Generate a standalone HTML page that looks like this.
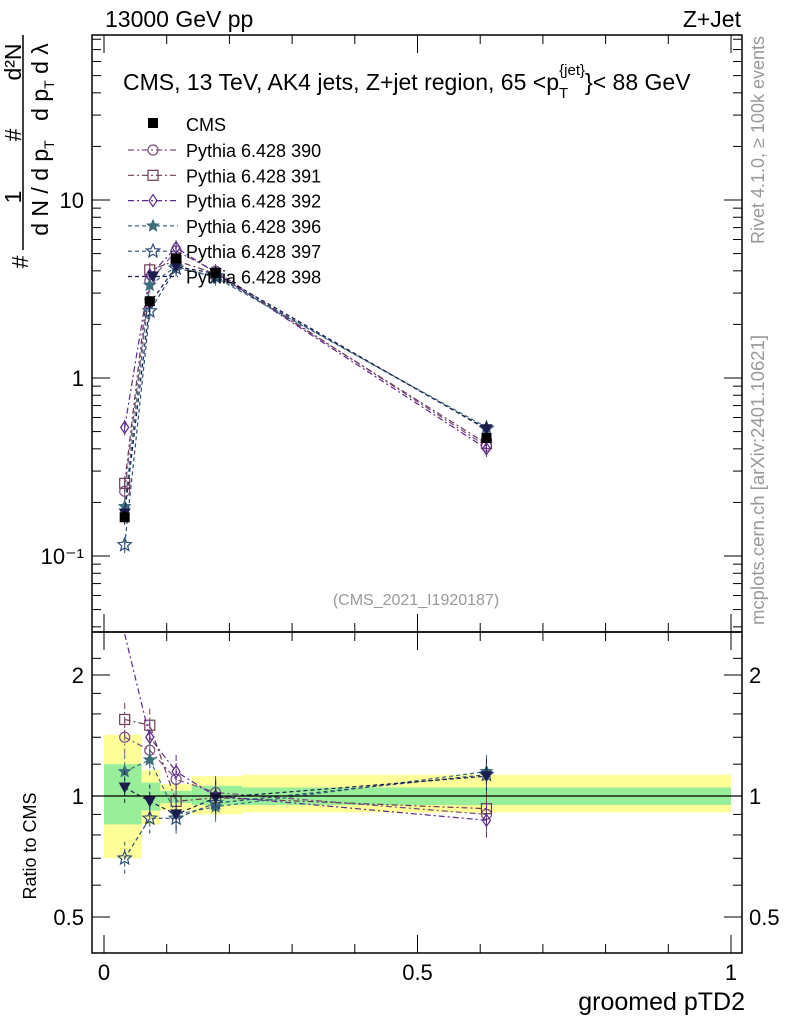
<!DOCTYPE html>
<html><head><meta charset="utf-8"><style>
body{margin:0;background:#fff}
svg text{font-family:"Liberation Sans",sans-serif}
</style></head><body>
<svg id="c" width="786" height="1024" xmlns="http://www.w3.org/2000/svg">
<g id="bands"></g>
<g id="marks"></g>
<rect x="92" y="35" width="650" height="597" fill="none" stroke="#000" stroke-width="1.5"/>
<rect x="92" y="632" width="650" height="321" fill="none" stroke="#000" stroke-width="1.5"/>
<line x1="92" x2="742" y1="796" y2="796" stroke="#000" stroke-width="1.2"/>
<g id="axes"></g>
<text x="105" y="27" font-size="23">13000 GeV pp</text>
<text x="741" y="27" font-size="23" text-anchor="end">Z+Jet</text>
<text x="123" y="90" font-size="23">CMS, 13 TeV, AK4 jets, Z+jet region, 65 &lt;p<tspan font-size="15" dy="8">T</tspan><tspan font-size="15" dx="-9" dy="-23">{jet}</tspan><tspan dy="15">}&lt; 88 GeV</tspan></text>
<text x="416" y="605" font-size="16" fill="#999" text-anchor="middle">(CMS_2021_I1920187)</text>
<text x="745" y="1010" font-size="25" text-anchor="end">groomed pTD2</text>
<text transform="translate(36,846) rotate(-90)" font-size="18" text-anchor="middle">Ratio to CMS</text>
<text transform="translate(764,140) rotate(-90)" font-size="18" fill="#999" text-anchor="middle">Rivet 4.1.0, ≥ 100k events</text>
<text transform="translate(764,480) rotate(-90)" font-size="18.5" fill="#999" text-anchor="middle">mcplots.cern.ch [arXiv:2401.10621]</text>
<g font-size="23">
<line x1="23" x2="23" y1="35" y2="250" stroke="#000" stroke-width="1.5"/>
<text transform="translate(28,262) rotate(-90)" text-anchor="middle">#</text>
<text transform="translate(21,197) rotate(-90)" text-anchor="middle">1</text>
<text transform="translate(21,135) rotate(-90)" text-anchor="middle">#</text>
<text transform="translate(21,62) rotate(-90)" text-anchor="middle">d²N</text>
<text transform="translate(48,188) rotate(-90)" text-anchor="middle">d N / d p<tspan font-size="14" dy="6">T</tspan></text>
<text transform="translate(48,82) rotate(-90)" text-anchor="middle">d p<tspan font-size="14" dy="6">T</tspan><tspan dy="-6"> d λ</tspan></text>
</g>
<g id="legend"></g>
</svg>
<script>
const categories=[0.033,0.073,0.115,0.178,0.61];
const binEdges=[0,0.06,0.09,0.14,0.22,1.0];
const cmsValues=[0.165,2.7,4.7,3.9,0.46];
const cmsErrors=[0.015,0.15,0.2,0.15,0.03];
const yellowLow=[0.70,0.85,0.92,0.90,0.91];
const yellowHigh=[1.42,1.16,1.07,1.12,1.13];
const greenLow=[0.85,0.92,0.96,0.95,0.95];
const greenHigh=[1.20,1.08,1.03,1.06,1.05];
const r390=[1.40,1.30,1.10,1.02,0.90];
const r391=[1.55,1.50,0.97,0.99,0.93];
const r392=[3.2,1.40,1.15,1.00,0.87];
const r396=[1.15,1.23,0.90,0.94,1.15];
const r397=[0.70,0.88,0.88,0.96,1.13];
const r398=[1.05,0.97,0.90,0.99,1.12];
const seriesNames=["Pythia 6.428 390","Pythia 6.428 391","Pythia 6.428 392","Pythia 6.428 396","Pythia 6.428 397","Pythia 6.428 398"];
const yTicksMain=[0.1,1,10];
const yTickLabelsMain=["10\u207B\u00B9","1","10"];
const ratioTicks=[0.5,1,2];
const xTicks=[0,0.5,1];

const NS="http://www.w3.org/2000/svg";
const XR=742;
const X=v=>104+627*v;
const Y=v=>378-178*Math.log10(v);
const R=v=>796-402*Math.log10(v);
function mk(t,a,p){const e=document.createElementNS(NS,t);for(const k in a)e.setAttribute(k,a[k]);(p||document.getElementById('c')).appendChild(e);return e;}
const series=[
 {r:r390,c:"#7b4f7f",m:"circle",d:"6,3,2,3"},
 {r:r391,c:"#6e3b57",m:"square",d:"6,3,2,3"},
 {r:r392,c:"#5b2a8f",m:"diamond",d:"6,3,2,3"},
 {r:r396,c:"#3d6e7d",m:"starf",d:"4,3"},
 {r:r397,c:"#2c4c72",m:"star",d:"4,3"},
 {r:r398,c:"#1b1b4d",m:"tri",d:"4,3"}];
function starPts(cx,cy,R1){let p=[];for(let i=0;i<10;i++){const a=-Math.PI/2+i*Math.PI/5,rr=i%2?R1*0.45:R1;p.push((cx+rr*Math.cos(a)).toFixed(1)+","+(cy+rr*Math.sin(a)).toFixed(1));}return p.join(" ");}
function marker(g,m,x,y,c){
 if(m==="circle")return mk('circle',{cx:x,cy:y,r:5,fill:'none',stroke:c,'stroke-width':1.2},g);
 if(m==="square")return mk('rect',{x:x-5,y:y-5,width:10,height:10,fill:'none',stroke:c,'stroke-width':1.2},g);
 if(m==="diamond")return mk('polygon',{points:`${x},${y-6} ${x+4},${y} ${x},${y+6} ${x-4},${y}`,fill:'none',stroke:c,'stroke-width':1.2},g);
 if(m==="starf")return mk('polygon',{points:starPts(x,y,6),fill:c,stroke:c},g);
 if(m==="star")return mk('polygon',{points:starPts(x,y,7),fill:'none',stroke:c,'stroke-width':1.2},g);
 if(m==="tri")return mk('polygon',{points:`${x-6},${y-5} ${x+6},${y-5} ${x},${y+6}`,fill:c},g);
 if(m==="sq")return mk('rect',{x:x-5,y:y-5,width:10,height:10,fill:c},g);
}
const bg=document.getElementById('bands');
for(let i=0;i<categories.length;i++){
 const x0=X(binEdges[i]),x1=X(binEdges[i+1]);
 const yb=mk('rect',{x:x0,y:R(yellowHigh[i]),width:x1-x0,height:R(yellowLow[i])-R(yellowHigh[i]),fill:'#ffff99'},bg);
 
 
 const gb=mk('rect',{x:x0,y:R(greenHigh[i]),width:x1-x0,height:R(greenLow[i])-R(greenHigh[i]),fill:'#99ee99'},bg);
 
 
}
const mg=document.getElementById('marks');
series.forEach((s,k)=>{
 const g=mk('g',{},mg);
 
 
 const vals=s.r.map((r,i)=>r*cmsValues[i]);
 mk('polyline',{points:categories.map((c,i)=>X(c)+","+Y(vals[i])).join(" "),fill:'none',stroke:s.c,'stroke-width':1.2,'stroke-dasharray':s.d},g);
 const rp=categories.map((c,i)=>X(c)+","+Math.max(634,R(s.r[i]))).join(" ");
 mk('polyline',{points:rp,fill:'none',stroke:s.c,'stroke-width':1.2,'stroke-dasharray':s.d},g);
 categories.forEach((c,i)=>{
  const e=0.1*s.r[i];
  mk('line',{x1:X(c),x2:X(c),y1:Y(vals[i]*1.1),y2:Y(vals[i]*0.9),stroke:s.c},g);
  marker(g,s.m,X(c),Y(vals[i]),s.c);
  if(R(s.r[i])>640){
   mk('line',{x1:X(c),x2:X(c),y1:R(s.r[i]+e),y2:R(s.r[i]-e),stroke:s.c,'stroke-dasharray':s.d},g);
   marker(g,s.m,X(c),R(s.r[i]),s.c);
  }
 });
});
const cg=mk('g',{},mg);


categories.forEach((c,i)=>{
 mk('line',{x1:X(c),x2:X(c),y1:Y(cmsValues[i]+cmsErrors[i]),y2:Y(cmsValues[i]-cmsErrors[i]),stroke:'#000'},cg);
 marker(cg,'sq',X(c),Y(cmsValues[i]),'#000');
});
const ag=document.getElementById('axes');


yTicksMain.forEach((t,i)=>{
 mk('line',{x1:92,x2:110,y1:Y(t),y2:Y(t),stroke:'#000'},ag);
 mk('line',{x1:XR-18,x2:XR,y1:Y(t),y2:Y(t),stroke:'#000'},ag);
 const tx=mk('text',{x:84,y:Y(t)+8,'font-size':22,'text-anchor':'end'},ag);tx.textContent=yTickLabelsMain[i];
 
 
});
for(let d=-2;d<=1;d++)for(let m=2;m<=9;m++){const v=m*Math.pow(10,d),y=Y(v);if(y>36&&y<631){mk('line',{x1:92,x2:101,y1:y,y2:y,stroke:'#000'},ag);mk('line',{x1:XR-9,x2:XR,y1:y,y2:y,stroke:'#000'},ag);}}
ratioTicks.forEach(t=>{
 mk('line',{x1:92,x2:110,y1:R(t),y2:R(t),stroke:'#000'},ag);
 mk('line',{x1:XR-18,x2:XR,y1:R(t),y2:R(t),stroke:'#000'},ag);
 const a=mk('text',{x:84,y:R(t)+8,'font-size':22,'text-anchor':'end'},ag);a.textContent=String(t);
 
 
 const b=mk('text',{x:749,y:R(t)+8,'font-size':22},ag);b.textContent=String(t);
 
 
});
[0.4,0.6,0.7,0.8,0.9,1.2,1.4,1.6,1.8,2.2].forEach(v=>{const y=R(v);if(y>633&&y<952){mk('line',{x1:92,x2:101,y1:y,y2:y,stroke:'#000'},ag);mk('line',{x1:XR-9,x2:XR,y1:y,y2:y,stroke:'#000'},ag);}});
xTicks.forEach(t=>{
 [[35,53],[614,632],[632,650],[935,953]].forEach(([a,b])=>mk('line',{x1:X(t),x2:X(t),y1:a,y2:b,stroke:'#000'},ag));
 const tx=mk('text',{x:X(t),y:980,'font-size':22,'text-anchor':'middle'},ag);tx.textContent=String(t);
 
 
});
for(let v=0.1;v<1;v+=0.1){if(Math.abs(v-0.5)<0.01)continue;[[35,44],[623,641],[944,953]].forEach(([a,b])=>mk('line',{x1:X(v),x2:X(v),y1:a,y2:b,stroke:'#000'},ag));}
const lg=document.getElementById('legend');
mk('rect',{x:148,y:118,width:10,height:10,fill:'#000'},lg);
let t0=mk('text',{x:186,y:131,'font-size':18},lg);t0.textContent="CMS";
series.forEach((s,k)=>{
 const y=150+k*25.3;
 mk('line',{x1:128,x2:178,y1:y,y2:y,stroke:s.c,'stroke-dasharray':s.d,'stroke-width':1.2},lg);
 marker(lg,s.m,153,y,s.c);
 const t=mk('text',{x:186,y:y+7,'font-size':18},lg);t.textContent=seriesNames[k];
 
 
});
</script>
</body></html>
